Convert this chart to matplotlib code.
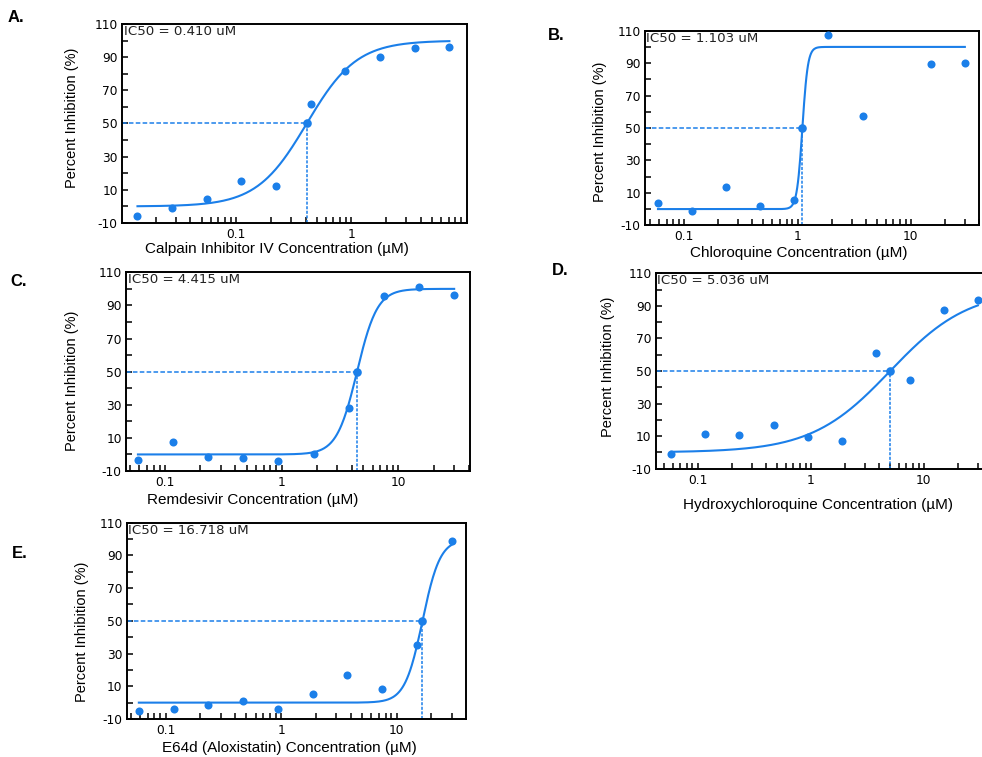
import numpy as np
import matplotlib
matplotlib.use("Agg")
import matplotlib.pyplot as plt
from matplotlib.ticker import FixedLocator, NullFormatter, FixedFormatter, LogLocator

plt.rcParams["axes.unicode_minus"] = False

# ---------------- data ----------------
panel_letters = ["A.", "B.", "C.", "D.", "E."]
drug_labels = [
    "Calpain Inhibitor IV Concentration (\u00b5M)",
    "Chloroquine Concentration (\u00b5M)",
    "Remdesivir Concentration (\u00b5M)",
    "Hydroxychloroquine Concentration (\u00b5M)",
    "E64d (Aloxistatin) Concentration (\u00b5M)",
]
ic50_text = ["IC50 = 0.410 uM", "IC50 = 1.103 uM", "IC50 = 4.415 uM",
             "IC50 = 5.036 uM", "IC50 = 16.718 uM"]

A_conc = [0.0139, 0.0277, 0.0555, 0.111, 0.222, 0.444, 0.8875, 1.775, 3.55, 7.1]
A_inh = [-6.0, -1.2, 4.2, 15.1, 12.5, 62.0, 81.7, 90.1, 95.4, 96.2]

B_conc = [0.0586, 0.117, 0.234, 0.469, 0.9375, 1.875, 3.75, 15.0, 30.0]
B_inh = [3.6, -1.2, 13.6, 1.9, 5.4, 107.5, 57.6, 89.3, 90.1]

C_conc = [0.0586, 0.117, 0.234, 0.469, 0.9375, 1.875, 3.75, 7.5, 15.0, 30.0]
C_inh = [-3.5, 7.5, -1.5, -2.1, -3.8, 0.2, 28.2, 95.9, 100.9, 96.5]

D_conc = [0.0586, 0.117, 0.234, 0.469, 0.9375, 1.875, 3.75, 7.5, 15.0, 30.0]
D_inh = [-0.8, 11.5, 10.5, 16.8, 9.6, 7.2, 61.0, 44.6, 87.3, 93.4]

E_conc = [0.0586, 0.117, 0.234, 0.469, 0.9375, 1.875, 3.75, 7.5, 15.0, 30.0]
E_inh = [-5.1, -3.9, -1.2, 1.2, -4.1, 5.5, 16.7, 8.3, 35.0, 98.8]

# fitted 4-parameter logistic parameters
fit_ic50 = [0.410, 1.103, 4.415, 5.036, 16.718]
fit_hill = [2.0, 18.0, 5.0, 1.25, 5.7]
fit_bottom = [0.0, 0.0, 0.0, 0.0, 0.0]
fit_top = [100.0, 100.0, 100.0, 100.0, 100.0]

x_major = [[0.1, 1], [0.1, 1, 10], [0.1, 1, 10], [0.1, 1, 10], [0.1, 1, 10]]
x_major_labels = [["0.1", "1"], ["0.1", "1", "10"], ["0.1", "1", "10"],
                  ["0.1", "1", "10"], ["0.1", "1", "10"]]
y_major = [-10, 10, 30, 50, 70, 90, 110]
y_minor = [0, 20, 40, 60, 80, 100]

xlims = [(0.0102, 10.1), (0.045, 40), (0.0463, 41), (0.0426, 40), (0.046, 39.8)]

concs = [A_conc, B_conc, C_conc, D_conc, E_conc]
inhs = [A_inh, B_inh, C_inh, D_inh, E_inh]

# ---------------- layout (pixels) ----------------
W, H = 982, 757
# left, right, top, bottom
boxes = [(122, 467, 24, 223), (645, 979, 30.7, 225.3), (126, 470, 272.3, 471),
         (655.7, 992, 273.3, 468.7), (126.7, 466, 522.7, 719)]
# x-label centre (x px, y px); y-label centre (x px, y px)
xlab_pos = [(277, 248.5), (799, 253.5), (253, 500), (818, 505), (289, 748)]
ylab_pos = [(72, 117.5), (600, 132), (72, 381), (608, 367), (82, 632)]
letter_pos = [(8, 18), (548, 36), (10, 282), (552, 270), (12, 554)]

blue = "#1b7fe9"
label_font = ["Liberation Sans", "DejaVu Sans"]

fig = plt.figure(figsize=(W / 100, H / 100), dpi=100)
fig.patch.set_facecolor("white")

for i in range(5):
    l, r, t, b = boxes[i]
    axw = r - l
    axh = b - t
    ax = fig.add_axes([l / W, 1 - b / H, axw / W, axh / H])
    ax.set_xscale("log")
    ax.set_xlim(*xlims[i])
    ax.set_ylim(-10, 110)

    x = np.array(concs[i])
    y = np.array(inhs[i])
    ic = fit_ic50[i]
    # fitted curve
    xc = np.geomspace(x.min(), x.max(), 400)
    yc = fit_bottom[i] + (fit_top[i] - fit_bottom[i]) / (1 + (ic / xc) ** fit_hill[i])
    ax.plot(xc, yc, color=blue, lw=1.5, zorder=3)
    # IC50 guide lines
    ax.plot([xlims[i][0], ic], [50, 50], color=blue, lw=1.1, ls=(0, (3, 1.5)), zorder=2)
    ax.plot([ic, ic], [-10, 50], color=blue, lw=1.1, ls=(0, (2, 1)), zorder=2)
    # data points
    ax.plot(x, y, "o", color=blue, ms=5.8, mec="none", zorder=4, clip_on=False)
    ax.plot([ic], [50], "o", color=blue, ms=6.2, mec="none", zorder=4)

    # ticks
    ax.xaxis.set_major_locator(FixedLocator(x_major[i]))
    ax.xaxis.set_major_formatter(FixedFormatter(x_major_labels[i]))
    ax.xaxis.set_minor_locator(LogLocator(base=10, subs=np.arange(2, 10)))
    ax.xaxis.set_minor_formatter(NullFormatter())
    ax.yaxis.set_major_locator(FixedLocator(y_major))
    ax.yaxis.set_minor_locator(FixedLocator(y_minor))
    ax.tick_params(which="both", direction="in", length=4.5, width=1.1, color="black",
                   top=False, right=False)
    ax.tick_params(axis="x", which="both", pad=3.5, labelsize=8.8)
    ax.tick_params(axis="y", which="both", pad=3, labelsize=8.8)
    for lab in ax.get_xticklabels() + ax.get_yticklabels():
        lab.set_family("DejaVu Sans")
    for s in ax.spines.values():
        s.set_linewidth(1.4)
        s.set_color("black")

    # labels
    ax.set_xlabel(drug_labels[i], family=label_font, fontsize=11)
    ax.set_ylabel("Percent Inhibition (%)", family=label_font, fontsize=10.5)
    xlx, xly = xlab_pos[i]
    ylx, yly = ylab_pos[i]
    ax.xaxis.set_label_coords((xlx - l) / axw, (b - xly) / axh)
    ax.xaxis.label.set_va("center")
    ax.yaxis.set_label_coords((ylx - l) / axw, (b - yly) / axh)
    ax.yaxis.label.set_va("center")

    ax.text(1.5 / axw, 1 - 1.0 / axh, ic50_text[i], transform=ax.transAxes,
            ha="left", va="top", fontsize=9.6, family="DejaVu Sans", color="#222222")

    lx, ly = letter_pos[i]
    fig.text(lx / W, 1 - ly / H, panel_letters[i], ha="left", va="center",
             fontsize=12, fontweight="bold", family=label_font)

fig.savefig("out.png", dpi=100, facecolor="white")
